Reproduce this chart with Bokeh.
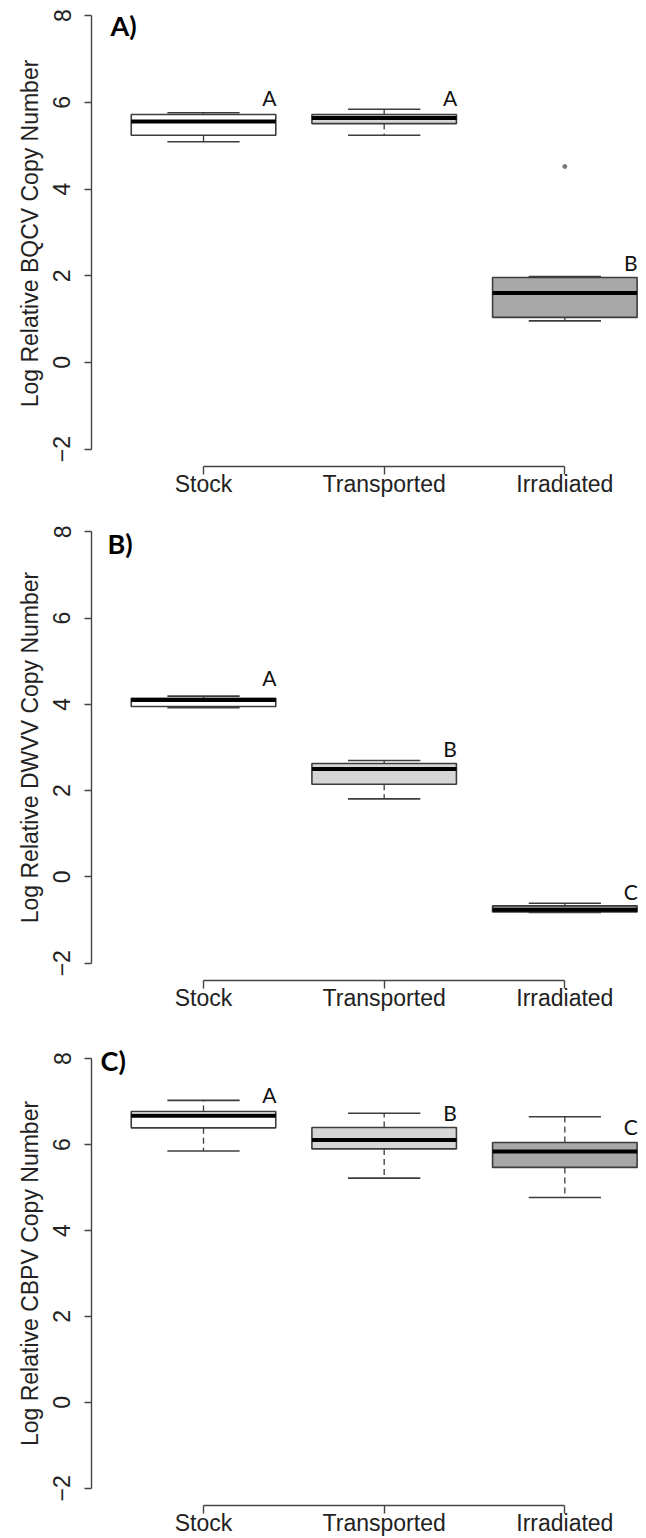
from bokeh.plotting import figure
from bokeh.layouts import column
from bokeh.models import FixedTicker, ColumnDataSource
from bokeh.core.properties import value
from bokeh.embed import file_html
from bokeh.resources import INLINE

# ---------------- data ----------------
categories = ["Stock", "Transported", "Irradiated"]
fills = ["#ffffff", "#d6d6d6", "#a8a8a8"]

panel_tags = ["A)", "B)", "C)"]
y_titles = ["Log Relative BQCV Copy Number",
            "Log Relative DWVV Copy Number",
            "Log Relative CBPV Copy Number"]

# BQCV
bqcv_low = [5.09, 5.24, 0.96]
bqcv_q1 = [5.24, 5.51, 1.04]
bqcv_med = [5.56, 5.64, 1.60]
bqcv_q3 = [5.72, 5.72, 1.96]
bqcv_high = [5.76, 5.84, 1.98]
bqcv_out_x = ["Irradiated"]
bqcv_out_y = [4.52]
bqcv_letters = ["A", "A", "B"]
bqcv_letter_y = [6.11, 6.11, 2.31]

# DWVV
dwvv_low = [3.92, 1.81, -0.82]
dwvv_q1 = [3.95, 2.15, -0.81]
dwvv_med = [4.10, 2.50, -0.76]
dwvv_q3 = [4.14, 2.63, -0.67]
dwvv_high = [4.19, 2.70, -0.61]
dwvv_out_x = []
dwvv_out_y = []
dwvv_letters = ["A", "B", "C"]
dwvv_letter_y = [4.62, 2.98, -0.34]

# CBPV
cbpv_low = [5.85, 5.22, 4.77]
cbpv_q1 = [6.39, 5.90, 5.47]
cbpv_med = [6.67, 6.11, 5.84]
cbpv_q3 = [6.77, 6.40, 6.05]
cbpv_high = [7.03, 6.73, 6.65]
cbpv_out_x = []
cbpv_out_y = []
cbpv_letters = ["A", "B", "C"]
cbpv_letter_y = [7.17, 6.75, 6.43]

y_ticks = [-2, 0, 2, 4, 6, 8]

panels = [
    dict(low=bqcv_low, q1=bqcv_q1, med=bqcv_med, q3=bqcv_q3, high=bqcv_high,
         ox=bqcv_out_x, oy=bqcv_out_y, let=bqcv_letters, ly=bqcv_letter_y),
    dict(low=dwvv_low, q1=dwvv_q1, med=dwvv_med, q3=dwvv_q3, high=dwvv_high,
         ox=dwvv_out_x, oy=dwvv_out_y, let=dwvv_letters, ly=dwvv_letter_y),
    dict(low=cbpv_low, q1=cbpv_q1, med=cbpv_med, q3=cbpv_q3, high=cbpv_high,
         ox=cbpv_out_x, oy=cbpv_out_y, let=cbpv_letters, ly=cbpv_letter_y),
]

# layout (pixels / ranges)
heights = [514, 527, 497]
bottoms = [48, 61, 33]
y_tops = [8.35, 8.4, 8.4]
tag_pos = [(0.485, 7.77), (0.469, 7.73), (0.43, 7.95)]

BOXW = 0.8
FONT = "Liberation Sans"
LINE = "#3c3c3c"

figs = []
for i, d in enumerate(panels):
    pos = [categories.index(c) + 1 for c in categories]
    p = figure(width=646, height=heights[i], output_backend="svg",
               toolbar_location=None, x_range=(0.38, 3.452),
               y_range=(-2.4, y_tops[i]), min_border_left=91,
               min_border_right=0, min_border_top=0,
               min_border_bottom=bottoms[i])
    p.outline_line_color = None
    p.grid.visible = False
    p.background_fill_color = "white"
    p.border_fill_color = "white"

    src = ColumnDataSource(dict(
        x=pos,
        xl=[v - BOXW / 4 for v in pos], xr=[v + BOXW / 4 for v in pos],
        bl=[v - BOXW / 2 for v in pos], br=[v + BOXW / 2 for v in pos],
        low=d["low"], q1=d["q1"], med=d["med"], q3=d["q3"], high=d["high"],
        fill=fills,
    ))
    # whiskers (dashed)
    p.segment(x0="x", y0="q3", x1="x", y1="high", source=src,
              line_color=LINE, line_width=1.3, line_dash="6 4")
    p.segment(x0="x", y0="q1", x1="x", y1="low", source=src,
              line_color=LINE, line_width=1.3, line_dash="6 4")
    # staples
    p.segment(x0="xl", y0="high", x1="xr", y1="high", source=src,
              line_color=LINE, line_width=1.6)
    p.segment(x0="xl", y0="low", x1="xr", y1="low", source=src,
              line_color=LINE, line_width=1.6)
    # boxes
    p.vbar(x="x", width=BOXW, bottom="q1", top="q3", source=src,
           fill_color="fill", line_color=LINE, line_width=1.6)
    # medians
    p.segment(x0="bl", y0="med", x1="br", y1="med", source=src,
              line_color="black", line_width=4)
    # outliers
    if d["ox"]:
        p.scatter(x=[categories.index(c) + 1 for c in d["ox"]], y=d["oy"],
                  size=4, fill_color="#777777", line_color="#777777")
    # significance letters
    p.text(x=[v + 0.365 for v in pos], y=d["ly"], text=d["let"],
           text_font=value("Lato"), text_font_size="21px",
           text_align="center", text_baseline="middle", text_color="#111111")
    # panel tag
    p.text(x=[tag_pos[i][0]], y=[tag_pos[i][1]], text=[panel_tags[i]],
           text_font=value("Lato"), text_font_style="bold",
           text_font_size="27px", text_align="left",
           text_baseline="middle", text_color="black")

    # y axis
    ya = p.yaxis[0]
    ya.ticker = FixedTicker(ticks=y_ticks)
    ya.bounds = (-2, 8)
    ya.major_tick_out = 7
    ya.major_tick_in = 0
    ya.minor_tick_line_color = None
    ya.major_label_orientation = "vertical"
    ya.major_label_text_font = FONT
    ya.major_label_text_font_size = "23px"
    ya.major_label_text_color = "#222222"
    ya.major_label_standoff = 14
    ya.axis_line_color = "#444444"
    ya.axis_line_width = 1.4
    ya.major_tick_line_color = "#444444"
    ya.major_tick_line_width = 1.4
    ya.axis_label = y_titles[i]
    ya.axis_label_text_font = FONT
    ya.axis_label_text_font_style = "normal"
    ya.axis_label_text_font_size = "23px"
    ya.axis_label_text_color = "#222222"
    ya.axis_label_standoff = 8

    # x axis
    xa = p.xaxis[0]
    xa.ticker = FixedTicker(ticks=pos)
    xa.major_label_overrides = {v: c for v, c in zip(pos, categories)}
    xa.bounds = (1, 3)
    xa.major_tick_out = 8
    xa.major_tick_in = 0
    xa.minor_tick_line_color = None
    xa.major_label_text_font = FONT
    xa.major_label_text_font_size = "23px"
    xa.major_label_text_color = "#222222"
    xa.major_label_standoff = -4
    xa.axis_line_color = "#444444"
    xa.axis_line_width = 1.4
    xa.major_tick_line_color = "#444444"
    xa.major_tick_line_width = 1.4

    figs.append(p)

layout = column(*figs, spacing=0)
open("out.html", "w").write(file_html(layout, INLINE))
